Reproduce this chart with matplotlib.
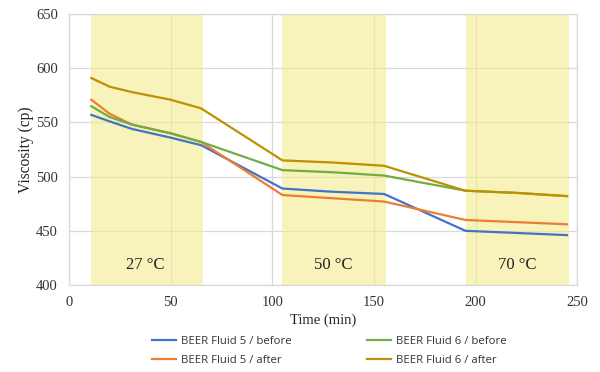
import matplotlib
matplotlib.use("Agg")
import matplotlib.pyplot as plt

# Sampling times (min) and viscosity readings (cp)
time_min = [11, 20, 31, 50, 65, 105, 130, 155, 195, 220, 245]
fluid5_before = [557, 551, 544, 536, 529, 489, 486, 484, 450, 448, 446]
fluid5_after = [571, 558, 548, 540, 532, 483, 480, 477, 460, 458, 456]
fluid6_before = [565, 555, 548, 540, 532, 506, 504, 501, 487, 485, 482]
fluid6_after = [591, 583, 578, 571, 563, 515, 513, 510, 487, 485, 482]

series_labels = ["BEER Fluid 5 / before", "BEER Fluid 5 / after",
                 "BEER Fluid 6 / before", "BEER Fluid 6 / after"]
series_colors = ["#4472c4", "#ed7d31", "#70ad47", "#bf9000"]

# Temperature stages: (start, end, label)
band_start = [11, 105, 195.5]
band_end = [66, 156, 246]
band_labels = ["27 \u00b0C", "50 \u00b0C", "70 \u00b0C"]
band_label_x = [37.5, 130, 220.5]

serif = "Liberation Serif"
sans = "Open Sans"

fig = plt.figure(figsize=(6.0, 3.72), dpi=100)
ax = fig.add_axes([0.115, 0.234, 0.847, 0.728])

for s, e in zip(band_start, band_end):
    ax.axvspan(s, e, color="#f3ec8f", alpha=0.6, lw=0, zorder=1)

for x, lab in zip(band_label_x, band_labels):
    ax.text(x, 418, lab, ha="center", va="center", fontsize=12,
            family=serif, color="#222222", zorder=4)

for vals, lab, col in zip([fluid5_before, fluid5_after, fluid6_before, fluid6_after],
                          series_labels, series_colors):
    ax.plot(time_min, vals, color=col, lw=1.6, label=lab, zorder=3)

ax.set_xlim(0, 250)
ax.set_ylim(400, 650)
ax.set_xticks([0, 50, 100, 150, 200, 250])
ax.set_yticks([400, 450, 500, 550, 600, 650])
ax.grid(True, color="#d9d9d9", lw=0.9, zorder=0)
ax.set_axisbelow(True)
for sp in ax.spines.values():
    sp.set_color("#d9d9d9")
    sp.set_linewidth(0.9)
ax.tick_params(length=0, labelsize=10.5, colors="#333333", pad=8)
for t in ax.get_xticklabels() + ax.get_yticklabels():
    t.set_family(serif)

ax.set_xlabel("Time (min)", family=serif, fontsize=10.5, color="#222222", labelpad=3)
ax.set_ylabel("Viscosity (cp)", family=serif, fontsize=11.2, color="#222222", labelpad=1)

leg = fig.legend(loc="lower center", bbox_to_anchor=(0.549, -0.012), ncol=2,
                 frameon=False, prop={"family": sans, "size": 8.2},
                 handlelength=2.1, handletextpad=0.45, columnspacing=6.6,
                 labelspacing=0.72)
for t in leg.get_texts():
    t.set_color("#333333")

fig.savefig("out.png", dpi=100)
